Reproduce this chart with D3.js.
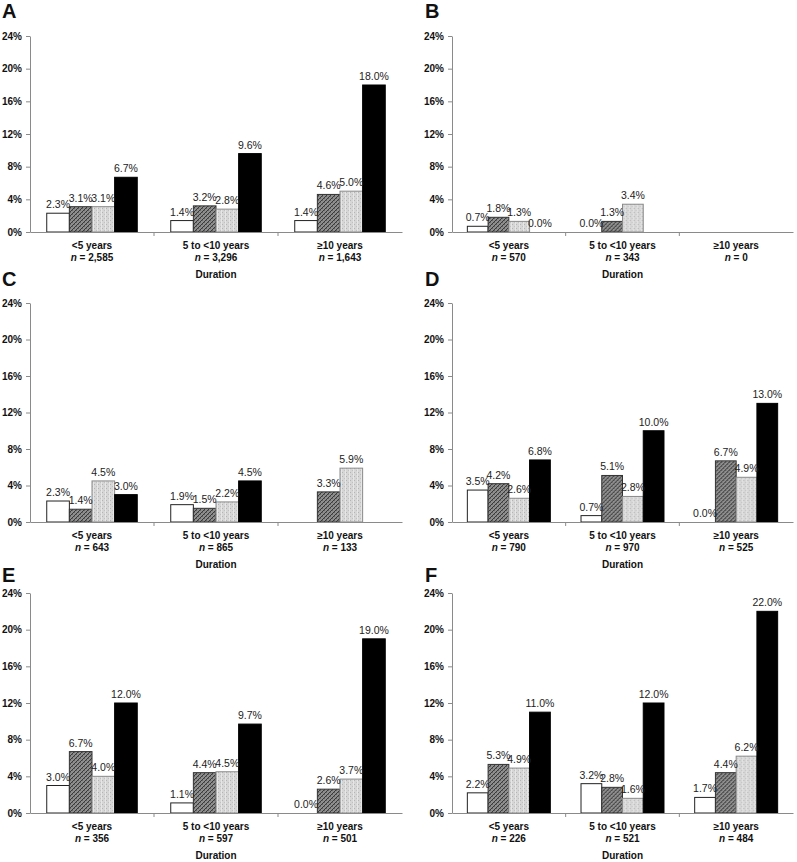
<!DOCTYPE html>
<html>
<head>
<meta charset="utf-8">
<script src="https://cdn.jsdelivr.net/npm/d3@7"></script>
<style>
  html, body { margin: 0; padding: 0; background: #fff; }
  svg { display: block; font-family: Arial, "Liberation Sans", sans-serif; }
</style>
</head>
<body>
<svg id="chart" width="797" height="862"></svg>
<script>
// ---------------- data ----------------
const panelLetters = ["A", "B", "C", "D", "E", "F"];
const categories = ["<5 years", "5 to <10 years", "\u226510 years"];
const seriesKeys = ["s1", "s2", "s3", "s4"];
const yTickValues = [0, 4, 8, 12, 16, 20, 24];
const axisTitle = "Duration";

// values in percent, one row per duration category, one entry per series (null = no bar)
const valuesA = [[2.3, 3.1, 3.1, 6.7], [1.4, 3.2, 2.8, 9.6], [1.4, 4.6, 5.0, 18.0]];
const valuesB = [[0.7, 1.8, 1.3, 0.0], [0.0, 1.3, 3.4, null], [null, null, null, null]];
const valuesC = [[2.3, 1.4, 4.5, 3.0], [1.9, 1.5, 2.2, 4.5], [null, 3.3, 5.9, null]];
const valuesD = [[3.5, 4.2, 2.6, 6.8], [0.7, 5.1, 2.8, 10.0], [0.0, 6.7, 4.9, 13.0]];
const valuesE = [[3.0, 6.7, 4.0, 12.0], [1.1, 4.4, 4.5, 9.7], [0.0, 2.6, 3.7, 19.0]];
const valuesF = [[2.2, 5.3, 4.9, 11.0], [3.2, 2.8, 1.6, 12.0], [1.7, 4.4, 6.2, 22.0]];

const nA = ["2,585", "3,296", "1,643"];
const nB = ["570", "343", "0"];
const nC = ["643", "865", "133"];
const nD = ["790", "970", "525"];
const nE = ["356", "597", "501"];
const nF = ["226", "521", "484"];

const panelValues = [valuesA, valuesB, valuesC, valuesD, valuesE, valuesF];
const panelN = [nA, nB, nC, nD, nE, nF];

// ---------------- layout ----------------
const cols = [
  { x0: 30, x1: 402, letterX: 2 },
  { x0: 452, x1: 793, letterX: 425 }
];
const rows = [
  { yZero: 232, yTop: 36, letterY: 18 },
  { yZero: 522, yTop: 303, letterY: 286 },
  { yZero: 813, yTop: 593, letterY: 582 }
];

const svg = d3.select("#chart");
const defs = svg.append("defs");

// hatched (dark) pattern
const ph = defs.append("pattern").attr("id", "hatch").attr("patternUnits", "userSpaceOnUse")
  .attr("width", 4).attr("height", 4);
ph.append("rect").attr("width", 4).attr("height", 4).attr("fill", "#8e8e8e");
ph.append("rect").attr("x", 0).attr("y", 0).attr("width", 1).attr("height", 1).attr("fill", "#666");
ph.append("rect").attr("x", 2).attr("y", 2).attr("width", 1).attr("height", 1).attr("fill", "#666");
ph.append("path").attr("d", "M-1,1 L1,-1 M0,4 L4,0 M3,5 L5,3")
  .attr("stroke", "#3a3a3a").attr("stroke-width", 1);

// light dotted pattern
const pl = defs.append("pattern").attr("id", "light").attr("patternUnits", "userSpaceOnUse")
  .attr("width", 4).attr("height", 4);
pl.append("rect").attr("width", 4).attr("height", 4).attr("fill", "#d6d6d6");
pl.append("rect").attr("x", 0).attr("y", 0).attr("width", 1).attr("height", 1).attr("fill", "#b4b4b4");
pl.append("rect").attr("x", 2).attr("y", 2).attr("width", 1).attr("height", 1).attr("fill", "#c0c0c0");
pl.append("rect").attr("x", 3).attr("y", 0).attr("width", 1).attr("height", 4).attr("fill", "#e6e6e6");

const fills = { s1: "#ffffff", s2: "url(#hatch)", s3: "url(#light)", s4: "#000000" };
const strokes = { s1: "#222222", s2: "#333333", s3: "#8a8a8a", s4: "#000000" };

panelLetters.forEach((letter, pi) => {
  const col = cols[pi % 2];
  const row = rows[Math.floor(pi / 2)];
  const vals = panelValues[pi];
  const ns = panelN[pi];

  const g = svg.append("g");

  const x0 = d3.scaleBand().domain(categories).range([col.x0, col.x1]).paddingInner(0).paddingOuter(0);
  const bw = x0.bandwidth();
  const x1 = d3.scaleBand().domain(seriesKeys).range([bw * 0.135, bw * 0.865]).padding(0);
  const y = d3.scaleLinear().domain([0, 24]).range([row.yZero, row.yTop]);

  // panel letter
  g.append("text").attr("x", col.letterX).attr("y", row.letterY)
    .attr("font-size", 20).attr("font-weight", "bold").attr("fill", "#111").text(letter);

  // y axis
  const yAxis = d3.axisLeft(y).tickValues(yTickValues).tickSize(4).tickSizeOuter(0)
    .tickFormat(d => d + "%");
  const ga = g.append("g").attr("transform", `translate(${col.x0},0)`).call(yAxis);
  ga.select(".domain").attr("stroke", "#8a8a8a");
  ga.selectAll(".tick line").attr("stroke", "#8a8a8a");
  ga.selectAll(".tick text").attr("x", -8).attr("font-size", 10).attr("font-weight", "bold")
    .attr("fill", "#111").attr("font-family", "Arial, 'Liberation Sans', sans-serif");

  // bars
  categories.forEach((cat, ci) => {
    const gg = g.append("g").attr("transform", `translate(${x0(cat)},0)`);
    const rowData = seriesKeys.map((k, si) => ({ key: k, v: vals[ci][si] }));
    gg.selectAll("rect").data(rowData.filter(d => d.v !== null && d.v > 0)).join("rect")
      .attr("x", d => x1(d.key))
      .attr("y", d => y(d.v))
      .attr("width", x1.bandwidth())
      .attr("height", d => y(0) - y(d.v))
      .attr("fill", d => fills[d.key])
      .attr("stroke", d => strokes[d.key])
      .attr("stroke-width", 1);
    gg.selectAll("text.val").data(rowData.filter(d => d.v !== null)).join("text")
      .attr("class", "val")
      .attr("x", d => x1(d.key) + x1.bandwidth() / 2)
      .attr("y", d => y(d.v) - 5)
      .attr("text-anchor", "middle")
      .attr("font-size", 10.5).attr("fill", "#222")
      .text(d => d.v.toFixed(1) + "%");
  });

  // x axis (baseline with category divider ticks)
  const xAxis = d3.axisBottom(x0).tickSize(0).tickSizeOuter(0).tickFormat("");
  const gx = g.append("g").attr("transform", `translate(0,${row.yZero})`).call(xAxis);
  gx.select(".domain").attr("stroke", "#8a8a8a");
  gx.selectAll(".tick").remove();
  g.selectAll("line.div").data(categories.slice(1)).join("line")
    .attr("class", "div")
    .attr("x1", d => x0(d)).attr("x2", d => x0(d))
    .attr("y1", row.yZero).attr("y2", row.yZero + 4)
    .attr("stroke", "#8a8a8a");

  // category labels
  categories.forEach((cat, ci) => {
    const cx = x0(cat) + bw / 2;
    g.append("text").attr("x", cx).attr("y", row.yZero + 17).attr("text-anchor", "middle")
      .attr("font-size", 10).attr("font-weight", "bold").attr("fill", "#111").text(cat);
    const t = g.append("text").attr("x", cx).attr("y", row.yZero + 29).attr("text-anchor", "middle")
      .attr("font-size", 10).attr("font-weight", "bold").attr("fill", "#111");
    t.append("tspan").attr("font-style", "italic").text("n");
    t.append("tspan").text(" = " + ns[ci]);
  });

  // axis title
  g.append("text").attr("x", (col.x0 + col.x1) / 2).attr("y", row.yZero + 46)
    .attr("text-anchor", "middle").attr("font-size", 10).attr("font-weight", "bold")
    .attr("fill", "#111").text(axisTitle);
});
</script>
</body>
</html>
